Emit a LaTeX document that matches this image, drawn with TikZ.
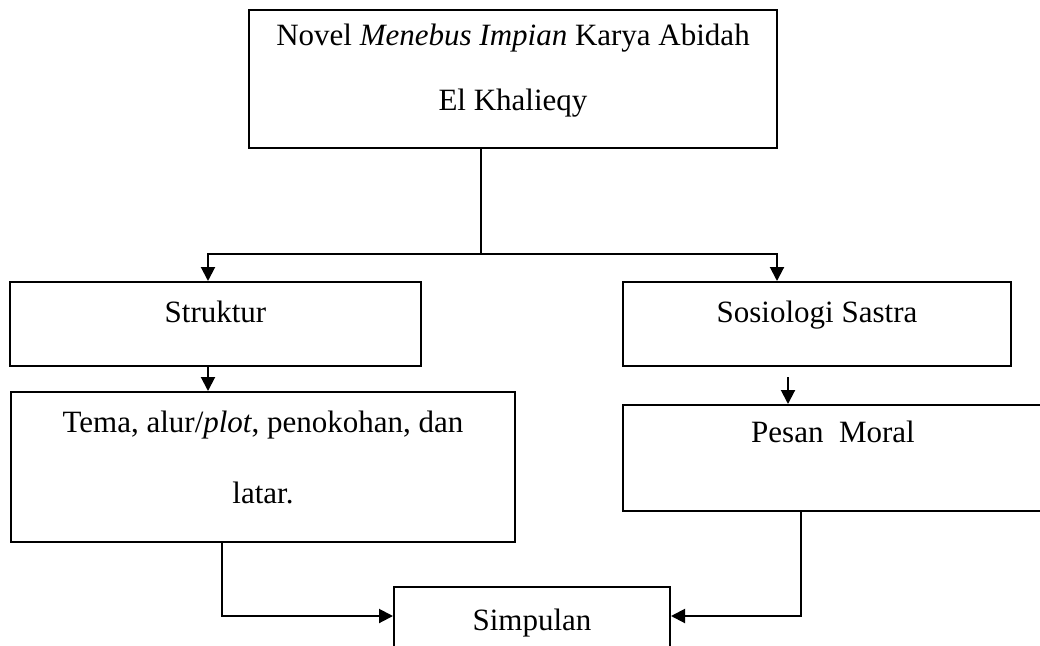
\documentclass[tikz,border=0pt]{standalone}
\usepackage{fontspec}
\setmainfont{Liberation Serif}
\usetikzlibrary{arrows.meta}
\begin{document}
\begin{tikzpicture}[x=1pt,y=-1pt,
  box/.style={draw, line width=2pt, inner sep=0pt},
  txt/.style={anchor=base, inner sep=0pt, font=\fontsize{31}{37}\selectfont},
  conn/.style={line width=2pt},
  arr/.style={line width=2pt, -{Triangle[length=14pt,width=14pt]}}]
\useasboundingbox (0,0) rectangle (1040,645);
\clip (0,0) rectangle (1040,645);
% boxes
\node[box, minimum width=528pt, minimum height=138pt] (top) at (513,79) {};
\node[box, minimum width=411pt, minimum height=84pt] (strk) at (215.5,324) {};
\node[box, minimum width=388pt, minimum height=84pt] (sos) at (817,324) {};
\node[box, minimum width=504pt, minimum height=150pt] (tema) at (263,467) {};
\node[box, minimum width=420pt, minimum height=106pt] (pesan) at (833,458) {};
\node[box, minimum width=276pt, minimum height=120pt] (simp) at (532,647) {};
% texts
\node[txt] (t1) at (513,45) {Novel \textit{Menebus Impian} Karya Abidah};
\node[txt] (t2) at (513,110) {El Khalieqy};
\node[txt] (t3) at (215.5,322) {Struktur};
\node[txt] (t4) at (817,322) {Sosiologi Sastra};
\node[txt] (t5) at (263,432) {Tema, alur/\textit{plot}, penokohan, dan};
\node[txt] (t6) at (263,503) {latar.};
\node[txt] (t7) at (833,442) {Pesan\ \ Moral};
\node[txt] (t8) at (532,630) {Simpulan};
% connector coordinates
\coordinate (j) at (481,254);
\coordinate (aL) at (208,254);
\coordinate (aR) at (777,254);
\coordinate (sp) at (788,377);
\coordinate (tl) at (222,616);
\coordinate (tr) at (801,616);
% connectors
\draw[conn] (top.south -| j) -- (j);
\draw[arr] (j) -- (aL) -- (aL |- strk.north);
\draw[arr] (j) -- (aR) -- (aR |- sos.north);
\draw[arr] (strk.south -| aL) -- (tema.north -| aL);
\draw[arr] (sp) -- (pesan.north -| sp);
\draw[arr] (tema.south -| tl) -- (tl) -- (simp.west |- tl);
\draw[arr] (pesan.south -| tr) -- (tr) -- (simp.east |- tr);
\end{tikzpicture}
\end{document}
